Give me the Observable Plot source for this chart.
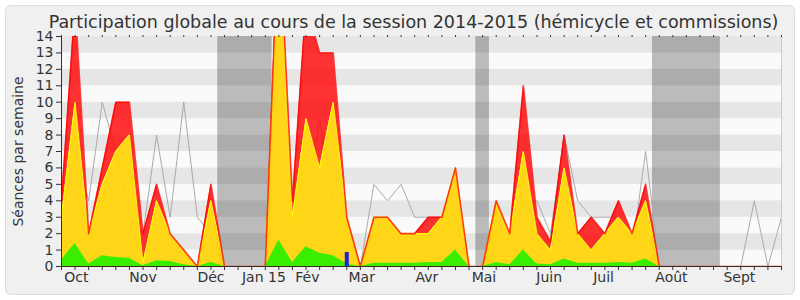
<!DOCTYPE html>
<html><head><meta charset="utf-8">
<script src="https://cdn.jsdelivr.net/npm/d3@7"></script>
<script src="https://cdn.jsdelivr.net/npm/@observablehq/plot@0.6"></script>
<style>
html,body{margin:0;padding:0;background:#fff;}
#wrap{position:relative;width:800px;height:300px;overflow:hidden;}
#panel{position:absolute;left:5px;top:5px;width:790px;height:290px;background:#f0f0f0;border:1px solid #dcdcdc;border-radius:6px;box-sizing:border-box;}
#chart{position:absolute;left:0;top:0;}
</style></head>
<body><div id="wrap"><div id="panel"></div><div id="chart"></div></div>
<script>
const title = "Participation globale au cours de la session 2014-2015 (hémicycle et commissions)";
const yLabel = "Séances par semaine";

// one value per week (54 weeks, index 0..53)
const red    = [4,16,2,6,10,10,2,5,2,1, 0,5,0,0,0,0,21,4,16,13, 13,3,0,3,3,2,2,3,3,6, 0,0,4,2,11,3,1.5,8,2,3, 2,4,2,5,0,0,0,0,0,0, 0,0,0,0];
const yellow = [3,10,2,5,7,8,0.2,4,2,1, 0,4,0,0,0,0,20,3,9,6, 10,3,0,3,3,2,2,2,3,6, 0,0,4,2,7,2,1,6,2,1, 2,3,2,4,0,0,0,0,0,0, 0,0,0,0];
const green  = [0.4,1.4,0.15,0.65,0.55,0.5,0.05,0.35,0.3,0.1, 0,0.25,0,0,0,0,1.6,0.25,1.2,0.8, 0.65,0.15,0,0.2,0.2,0.2,0.2,0.25,0.25,1.0, 0,0,0.25,0.1,1.0,0.15,0.1,0.45,0.2,0.2, 0.2,0.25,0.2,0.45,0,0,0,0,0,0, 0,0,0,0];
const median = [3,7,4,10,7,3,2,8,3,10, 3,2,0,0,0,0,2,3,3,9, 4,3,0,5,4,5,3,3,2,3, 0,0,1,2,4,4,2,8,4,3, 3,3,1,7,0,0,0,0,0,0, 0,4,0,3];

// oral questions (blue bars)
const blueWeek  = [21];
const blueValue = [0.85];

// parliamentary holidays (week ranges)
const vacStart = [11.5, 30.5, 43.5];
const vacEnd   = [15.5, 31.5, 48.5];

// month labels and their positions (in weeks)
const monthLabels = ["Oct","Nov","Déc","Jan 15","Fév","Mar","Avr","Mai","Juin","Juil","Août","Sept"];
const monthPos    = [1.1, 6, 11, 14.9, 18.1, 22.1, 26.9, 31.1, 35.9, 39.9, 44.9, 49.9];

const yTicks = [0,1,2,3,4,5,6,7,8,9,10,11,12,13,14];

const weeks = red.map((_, i) => i);
const data = weeks.map(i => ({w: i, red: red[i], yellow: yellow[i], green: green[i], median: median[i]}));
const vac = vacStart.map((s, i) => ({s, e: vacEnd[i]}));
const blue = blueWeek.map((w, i) => ({w, v: blueValue[i]}));
const months = monthLabels.map((label, i) => ({label, pos: monthPos[i]}));
const rows = yTicks.slice(0, -1);
const lastWeek = weeks[weeks.length - 1];

const chart = Plot.plot({
  width: 800, height: 300,
  marginLeft: 61, marginRight: 19, marginTop: 36, marginBottom: 34,
  x: {domain: [0, lastWeek], axis: null},
  y: {domain: [0, 14], axis: null},
  style: {background: "transparent", fontFamily: "'DejaVu Sans', sans-serif", fontSize: "14px", color: "#333"},
  marks: [
    Plot.rect(rows, {x1: 0, x2: lastWeek, y1: d => d, y2: d => d + 1, fill: d => d % 2 ? "#e6e6e6" : "#fafafa"}),
    Plot.rect(vac, {x1: "s", x2: "e", y1: 0, y2: 14, fill: "#000", fillOpacity: 0.25}),
    Plot.line(data, {x: "w", y: "median", stroke: "#aaaaaa", strokeWidth: 1, clip: true}),
    Plot.areaY(data, {x: "w", y1: "yellow", y2: "red", fill: "#ff0000", fillOpacity: 0.8, clip: true}),
    Plot.areaY(data, {x: "w", y1: 0, y2: "yellow", fill: "#ffd30a", fillOpacity: 0.94, clip: true}),
    Plot.areaY(data, {x: "w", y1: 0, y2: "green", fill: "#33ee00", fillOpacity: 0.97, clip: true}),
    Plot.line(data, {x: "w", y: "yellow", stroke: "#ffff00", strokeWidth: 1, clip: true}),
    Plot.line(data, {x: "w", y: "red", stroke: "#ff0000", strokeWidth: 1.6, strokeOpacity: 0.75, clip: true}),
    Plot.ruleX(blue, {x: "w", y1: 0, y2: "v", stroke: "#2020e0", strokeWidth: 4}),
    Plot.ruleY([0], {stroke: "#3a2a22"}),
    Plot.ruleX([0], {stroke: "#333"}),
    Plot.ruleX([lastWeek], {stroke: "#cccccc"}),
    Plot.axisY({ticks: yTicks, tickSize: 5, tickPadding: 3, fontSize: 14, label: null, stroke: "#333"}),
    Plot.axisX({anchor: "bottom", ticks: weeks, tickSize: 4, tickFormat: () => "", label: null, stroke: "#333"}),
    Plot.axisX({anchor: "top", ticks: weeks, tickSize: 2, tickFormat: () => "", label: null, stroke: "#333"}),
    Plot.text(months, {x: "pos", y: 0, text: "label", lineAnchor: "top", dy: 6, fontSize: 14, fill: "#333"}),
    Plot.text([yLabel], {frameAnchor: "left", textAnchor: "middle", dx: -43, rotate: -90, fontSize: 14, fill: "#333"}),
    Plot.text([title], {frameAnchor: "top", textAnchor: "middle", dx: -8, dy: -9, lineAnchor: "bottom", fontSize: 17.5, fill: "#333"})
  ]
});
document.getElementById("chart").appendChild(chart);
</script>
</body></html>
